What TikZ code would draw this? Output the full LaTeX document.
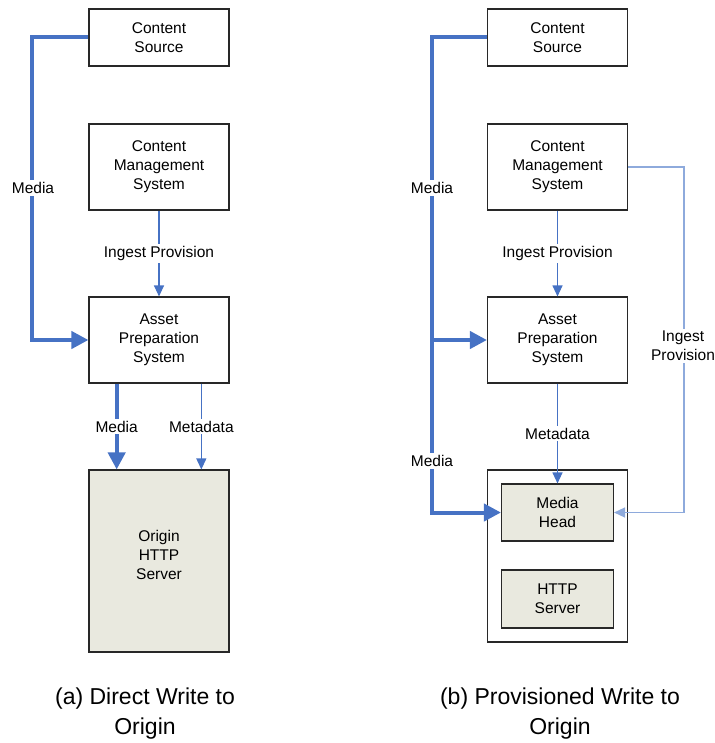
\documentclass[tikz,border=0pt]{standalone}
\usepackage{fontspec}
\setmainfont{Liberation Sans}
\usetikzlibrary{arrows.meta,calc}
\definecolor{flow}{RGB}{70,114,196}
\definecolor{flowlight}{RGB}{142,170,220}
\definecolor{serverfill}{RGB}{233,233,223}
\definecolor{edge}{RGB}{40,40,40}
\begin{document}
\begin{tikzpicture}[x=1pt,y=-1pt,
  box/.style={draw=edge,line width=1.1pt,fill=white,minimum width=140pt,
    align=center,inner sep=0pt,font=\fontsize{15.5}{19}\selectfont},
  inbox/.style={box,fill=serverfill,minimum width=112pt},
  txt/.style={align=center,inner sep=0pt,font=\fontsize{15.5}{19}\selectfont},
  tag/.style={txt,fill=white,inner sep=2pt},
  caption/.style={align=center,inner sep=0pt,font=\fontsize{23}{30}\selectfont},
  media/.style={draw=flow,line width=4pt,-{Triangle[length=17pt,width=17pt]}},
  thinflow/.style={draw=flow,line width=1.1pt,-{Triangle[length=11pt,width=10pt]}},
  lightflow/.style={draw=flowlight,line width=1.4pt,-{Triangle[length=11pt,width=10pt]}}
]
\useasboundingbox (0,0) rectangle (714,743);

% ---------- (a) direct write ----------
\node[box,minimum height=57pt] (csL) at (159,37.5) {Content\\Source};
\node[box,minimum height=86pt] (cmsL) at (159,167) {Content\\Management\\System};
\node[box,minimum height=86pt] (apsL) at (159,340) {Asset\\Preparation\\System};
\node[box,fill=serverfill,minimum height=182pt] (origin) at (159,561) {};
\node[txt] (originTxt) at (159,555) {Origin\\HTTP\\Server};

\draw[media,line join=miter] (csL.west) -- ++(-56,0) |- (apsL.west);
\node[tag] (mediaL) at (33,188) {Media};

\draw[thinflow] (cmsL.south) -- (apsL.north)
  node[tag,midway] (ingL) {Ingest Provision};

\coordinate (mdL) at ($(apsL.south west)!0.2!(apsL.south east)$);
\coordinate (mtL) at ($(apsL.south west)!0.8!(apsL.south east)$);
\draw[media] (mdL) -- (mdL |- origin.north)
  node[tag,midway] (mediaL2) {Media};
\draw[thinflow] (mtL) -- (mtL |- origin.north)
  node[tag,midway] (metaL) {Metadata};

\node[caption] (capA) at (145,714) {(a) Direct Write to\\Origin};

% ---------- (b) provisioned write ----------
\node[box,minimum height=57pt] (csR) at (557.5,37.5) {Content\\Source};
\node[box,minimum height=86pt] (cmsR) at (557.5,167) {Content\\Management\\System};
\node[box,minimum height=86pt] (apsR) at (557.5,340) {Asset\\Preparation\\System};
\node[box,minimum height=172pt] (outer) at (557.5,556) {};
\node[inbox,minimum height=57pt] (mh) at (557.5,512.5) {Media\\Head};
\node[inbox,minimum height=58pt] (http) at (557.5,599) {HTTP\\Server};

\coordinate (bus) at ($(csR.west)+(-55,0)$);
\draw[media,line join=miter] (csR.west) -- (bus) |- (mh.west);
\draw[media] (bus |- apsR.west) -- (apsR.west);
\node[tag] (mediaR1) at (432,188) {Media};
\node[tag] (mediaR2) at (432,461) {Media};

\draw[thinflow] (cmsR.south) -- (apsR.north)
  node[tag,midway] (ingR) {Ingest Provision};
\draw[thinflow] (apsR.south) -- (mh.north)
  node[tag,midway] (metaR) {Metadata};

\draw[lightflow] (cmsR.east) -- ++(56,0) |- (mh.east);
\node[tag] (ingR2) at (683,346) {Ingest\\Provision};

\node[caption] (capB) at (560,714) {(b) Provisioned Write to\\Origin};
\end{tikzpicture}
\end{document}
